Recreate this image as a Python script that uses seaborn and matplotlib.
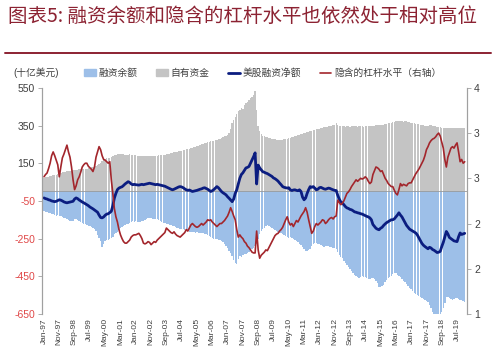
import matplotlib
matplotlib.use("Agg")
import matplotlib.pyplot as plt
from matplotlib.lines import Line2D
from matplotlib.patches import Patch
from matplotlib.ticker import FormatStrFormatter
import numpy as np
import seaborn as sns

# monthly, Jan-1997 .. Dec-2019 (one row per year)
free_credit = [  # 自有资金, 十亿美元
    73, 75, 76, 78, 80, 83, 86, 88, 90, 93, 96, 100,
    102, 104, 106, 107, 108, 109, 110, 112, 113, 114, 115, 117,
    118, 119, 120, 121, 122, 124, 126, 128, 130, 133, 136, 140,
    145, 152, 160, 168, 174, 177, 178, 180, 184, 188, 192, 196,
    198, 199, 200, 198, 197, 196, 195, 196, 197, 196, 195, 194,
    192, 190, 189, 188, 188, 187, 186, 186, 187, 186, 186, 187,
    188, 190, 191, 192, 193, 194, 195, 196, 197, 199, 201, 203,
    205, 207, 209, 211, 213, 215, 217, 219, 221, 223, 225, 228,
    230, 232, 235, 238, 241, 244, 247, 250, 253, 256, 259, 262,
    264, 266, 268, 270, 272, 275, 278, 281, 285, 289, 293, 297,
    301, 312, 330, 364, 380, 395, 410, 425, 434, 445, 440, 458,
    469, 475, 485, 495, 504, 512, 531, 434, 345, 320, 305, 295,
    292, 290, 288, 285, 282, 280, 278, 276, 275, 274, 275, 275,
    275, 277, 279, 281, 283, 285, 287, 290, 293, 296, 299, 301,
    304, 307, 310, 313, 316, 318, 320, 322, 325, 328, 330, 332,
    334, 336, 338, 340, 342, 344, 346, 348, 350, 352, 354, 365,
    352, 350, 348, 346, 345, 344, 345, 345, 344, 345, 346, 345,
    345, 344, 345, 346, 345, 344, 345, 346, 346, 347, 348, 350,
    350, 352, 354, 355, 354, 354, 355, 357, 360, 362, 364, 366,
    368, 370, 372, 372, 373, 372, 372, 371, 372, 372, 370, 368,
    366, 364, 362, 360, 358, 356, 354, 352, 352, 350, 348, 346,
    354, 352, 350, 348, 346, 344, 342, 340, 339, 338, 337, 337,
    337, 336, 337, 338, 337, 336, 337, 338, 337, 336, 337, 338,
]

margin_debt = [  # 融资余额 (shown below zero)
    -106, -108, -110, -112, -114, -118, -122, -125, -128, -126, -128, -130,
    -133, -138, -143, -148, -152, -155, -158, -156, -148, -145, -150, -158,
    -162, -166, -170, -175, -180, -185, -185, -190, -195, -200, -210, -230,
    -245, -265, -292, -280, -265, -260, -255, -250, -248, -240, -225, -220,
    -215, -205, -195, -190, -185, -180, -175, -172, -165, -160, -158, -160,
    -158, -160, -162, -160, -158, -155, -150, -145, -140, -140, -142, -145,
    -145, -146, -148, -152, -156, -160, -165, -168, -170, -172, -176, -180,
    -182, -185, -190, -195, -196, -198, -198, -200, -202, -205, -210, -215,
    -215, -214, -215, -218, -216, -218, -220, -222, -222, -225, -228, -230,
    -235, -240, -245, -250, -252, -250, -255, -258, -265, -270, -280, -290,
    -300, -315, -325, -340, -365, -378, -385, -360, -340, -345, -335, -330,
    -330, -325, -320, -310, -305, -300, -290, -280, -250, -225, -210, -200,
    -195, -185, -180, -185, -190, -195, -200, -205, -210, -215, -218, -222,
    -225, -230, -235, -240, -245, -240, -245, -250, -255, -262, -268, -276,
    -285, -295, -305, -315, -318, -310, -305, -290, -280, -275, -272, -276,
    -280, -285, -290, -292, -290, -288, -290, -292, -295, -298, -300, -305,
    -320, -335, -345, -355, -370, -380, -390, -400, -410, -420, -430, -444,
    -448, -452, -458, -455, -450, -452, -455, -458, -462, -465, -460, -458,
    -465, -475, -488, -507, -505, -500, -495, -480, -470, -460, -455, -450,
    -440, -430, -435, -445, -450, -455, -465, -475, -480, -490, -500, -513,
    -520, -530, -540, -545, -550, -555, -560, -565, -570, -575, -580, -585,
    -600, -620, -640, -650, -655, -669, -660, -650, -640, -620, -590, -560,
    -560, -565, -570, -575, -570, -565, -565, -570, -575, -578, -580, -585,
]

net_balance = [  # 美股融资净额
    -34, -38, -40, -44, -46, -50, -52, -54, -52, -48, -44, -46,
    -50, -55, -58, -60, -58, -56, -54, -52, -40, -34, -38, -45,
    -50, -56, -60, -65, -70, -75, -82, -87, -92, -98, -104, -110,
    -125, -138, -140, -135, -126, -120, -118, -112, -105, -75, -35, -10,
    10, 18, 22, 25, 32, 40, 46, 52, 48, 40, 36, 38,
    36, 35, 34, 36, 38, 36, 38, 40, 42, 44, 42, 40,
    38, 36, 38, 36, 34, 32, 30, 28, 24, 20, 16, 12,
    9, 12, 16, 20, 24, 26, 24, 20, 14, 9, 6, 8,
    4, 0, 2, 4, 6, 9, 12, 14, 18, 20, 16, 12,
    6, 0, 4, 10, 18, 26, 20, 10, 0, -7, -12, -18,
    -28, -36, -45, -54, -40, -10, 9, 40, 70, 90, 99, 112,
    125, 128, 133, 150, 168, 185, 205, 40, 140, 125, 115, 105,
    102, 98, 95, 90, 85, 80, 72, 68, 62, 55, 45, 36,
    26, 22, 20, 18, 20, 9, 5, 8, 9, 6, 4, 9,
    0, -30, -44, -35, -10, 10, 26, 22, 26, 18, 9, 12,
    20, 22, 18, 14, 12, 15, 18, 16, 12, 9, 6, 5,
    -20, -40, -55, -60, -70, -80, -87, -90, -95, -97, -102, -108,
    -110, -113, -115, -118, -120, -124, -128, -132, -135, -140, -150, -175,
    -185, -195, -200, -203, -195, -190, -180, -172, -165, -160, -155, -150,
    -150, -145, -135, -125, -113, -125, -135, -150, -165, -180, -190, -200,
    -205, -210, -215, -220, -230, -245, -260, -275, -285, -292, -298, -304,
    -296, -300, -308, -312, -318, -324, -322, -318, -292, -270, -240, -212,
    -225, -244, -250, -256, -262, -264, -266, -240, -220, -228, -225, -222,
]

leverage = [  # 隐含的杠杆水平 (右轴)
    2.82, 2.85, 2.87, 2.93, 3.0, 3.1, 3.15, 3.1, 3.04, 2.98, 2.82, 2.95,
    3.07, 3.12, 3.18, 3.24, 3.15, 3.08, 2.95, 2.78, 2.65, 2.7, 2.78, 2.82,
    2.88, 2.95, 2.98, 3.0, 3.0, 2.96, 2.94, 2.92, 2.89, 2.95, 3.08, 3.15,
    3.22, 3.18, 3.1, 3.05, 3.04, 3.02, 3.0, 3.02, 2.78, 2.6, 2.4, 2.29,
    2.22, 2.12, 2.05, 2.0, 1.96, 1.94, 1.94, 1.96, 1.98, 2.02, 2.04, 2.05,
    2.05, 2.06, 2.07, 2.04, 2.0, 1.94, 1.93, 1.94, 1.96, 1.95, 1.92, 1.94,
    1.96, 1.95, 1.98, 2.0, 2.02, 2.04, 2.06, 2.08, 2.14, 2.12, 2.1, 2.08,
    2.07, 2.09, 2.06, 2.04, 2.03, 2.02, 2.04, 2.06, 2.08, 2.12, 2.1, 2.14,
    2.18, 2.2, 2.18, 2.16, 2.15, 2.16, 2.18, 2.2, 2.18, 2.2, 2.22, 2.25,
    2.24, 2.25, 2.22, 2.2, 2.18, 2.16, 2.18, 2.2, 2.2, 2.22, 2.24, 2.27,
    2.3, 2.35, 2.41, 2.36, 2.3, 2.25, 2.12, 2.02, 2.05, 2.02, 2.0, 1.96,
    1.94, 1.9, 1.88, 1.85, 1.82, 1.81, 1.81, 2.1, 1.85, 1.74, 1.78, 1.8,
    1.82, 1.85, 1.84, 1.88, 1.92, 1.96, 2.0, 2.04, 2.06, 2.07, 2.1, 2.12,
    2.15, 2.2, 2.25, 2.29, 2.22, 2.18, 2.2, 2.16, 2.2, 2.24, 2.22, 2.26,
    2.3, 2.33, 2.36, 2.41, 2.35, 2.25, 2.16, 2.07, 2.1, 2.16, 2.2, 2.18,
    2.2, 2.22, 2.25, 2.24, 2.2, 2.22, 2.25, 2.27, 2.28, 2.26, 2.29, 2.3,
    2.51, 2.48, 2.45, 2.47, 2.5, 2.55, 2.6, 2.62, 2.65, 2.69, 2.72, 2.75,
    2.78, 2.76, 2.78, 2.8, 2.79, 2.8, 2.82, 2.8, 2.76, 2.73, 2.75, 2.85,
    2.9, 2.95, 2.94, 2.92, 2.89, 2.9, 2.85, 2.8, 2.77, 2.73, 2.71, 2.69,
    2.69, 2.64, 2.6, 2.58, 2.65, 2.73, 2.7, 2.72, 2.71, 2.7, 2.73, 2.74,
    2.74, 2.78, 2.82, 2.86, 2.89, 2.92, 2.96, 3.0, 3.04, 3.1, 3.18, 3.22,
    3.27, 3.3, 3.32, 3.33, 3.35, 3.38, 3.4, 3.36, 3.28, 3.2, 3.05, 2.95,
    3.08, 3.14, 3.2, 3.22, 3.2, 3.24, 3.27, 3.15, 3.02, 3.05, 3.0, 3.02,
]

x_labels = [
    "Jan-97", "Nov-97", "Sep-98", "Jul-99", "May-00", "Mar-01", "Jan-02",
    "Nov-02", "Sep-03", "Jul-04", "May-05", "Mar-06", "Jan-07", "Nov-07",
    "Sep-08", "Jul-09", "May-10", "Mar-11", "Jan-12", "Nov-12", "Sep-13",
    "Jul-14", "May-15", "Mar-16", "Jan-17", "Nov-17", "Sep-18", "Jul-19",
]
left_ticks = [-650, -450, -250, -50, 150, 350, 550]
right_ticks = [1.0, 1.6, 2.2, 2.8, 3.4, 4.0]

BLUE = "#9dbfe8"
GRAY = "#c4c4c4"
NAVY = "#0b1d80"
RED = "#a3262c"
DARKRED = "#8c2232"
TXT = "#404040"

sns.set_style("white")
plt.rcParams["font.family"] = ["Liberation Sans", "Noto Sans CJK SC"]

fig = plt.figure(figsize=(5.0, 3.63), dpi=100)
ax = fig.add_axes([0.084, 0.135, 0.85, 0.623])

x = np.arange(len(free_credit))
ax.bar(x, free_credit, width=0.9, color=GRAY, linewidth=0)
ax.bar(x, margin_debt, width=0.9, color=BLUE, linewidth=0)
ax.axhline(0, color="#9a9a9a", lw=0.6)
sns.lineplot(x=x, y=net_balance, ax=ax, color=NAVY, lw=2.0, legend=False)

ax2 = ax.twinx()
sns.lineplot(x=x, y=leverage, ax=ax2, color=RED, lw=1.2, legend=False)

ax.set_xlim(-1.3, 276.5)
ax.set_ylim(-650, 550)
ax2.set_ylim(1, 4)

ax.set_xticks(np.arange(0, 10 * len(x_labels), 10), labels=x_labels,
              rotation=90, fontsize=6, color=TXT)
ax.set_yticks(left_ticks, labels=[str(v) for v in left_ticks], fontsize=7.5)
for lab, v in zip(ax.get_yticklabels(), left_ticks):
    lab.set_color("#e04848" if v < 0 else TXT)
ax2.set_yticks(right_ticks)
ax2.yaxis.set_major_formatter(FormatStrFormatter("%.0f"))
ax2.tick_params(axis="y", labelsize=7.5, labelcolor=TXT)

for a in (ax, ax2):
    a.set_xlabel("")
    a.set_ylabel("")
    for side in ("top", "bottom"):
        a.spines[side].set_visible(False)
    for side in ("left", "right"):
        a.spines[side].set_color("#a0a0a0")
        a.spines[side].set_linewidth(0.8)
ax.tick_params(axis="y", direction="out", length=3, width=0.6,
               color="#a0a0a0", pad=2)
ax2.tick_params(axis="y", direction="out", length=3, width=0.6,
                color="#a0a0a0", pad=2)
ax.tick_params(axis="x", length=0, pad=3)

# title block
fig.text(0.016, 0.956, "图表5: 融资余额和隐含的杠杆水平也依然处于相对高位",
         fontsize=14, color=DARKRED, va="center",
         family=["Noto Sans CJK SC", "DejaVu Sans"])
fig.add_artist(Line2D([0.01, 0.982], [0.854, 0.854], transform=fig.transFigure,
                      color=DARKRED, lw=1.4))
fig.text(0.026, 0.799, "(十亿美元)", fontsize=7, color=TXT, va="center")

handles = [
    Patch(color=BLUE),
    Patch(color=GRAY),
    Line2D([], [], color=NAVY, lw=2.0),
    Line2D([], [], color=RED, lw=1.2),
]
names = ["融资余额", "自有资金", "美股融资净额", "隐含的杠杆水平（右轴）"]
leg = fig.legend(handles, names, loc="center left", bbox_to_anchor=(0.168, 0.799),
                 ncol=4, frameon=False, fontsize=7, handlelength=1.2,
                 handleheight=0.6, handletextpad=0.3, columnspacing=1.9,
                 borderaxespad=0, borderpad=0)
for t in leg.get_texts():
    t.set_color(TXT)

fig.savefig("out.png", dpi=100)
